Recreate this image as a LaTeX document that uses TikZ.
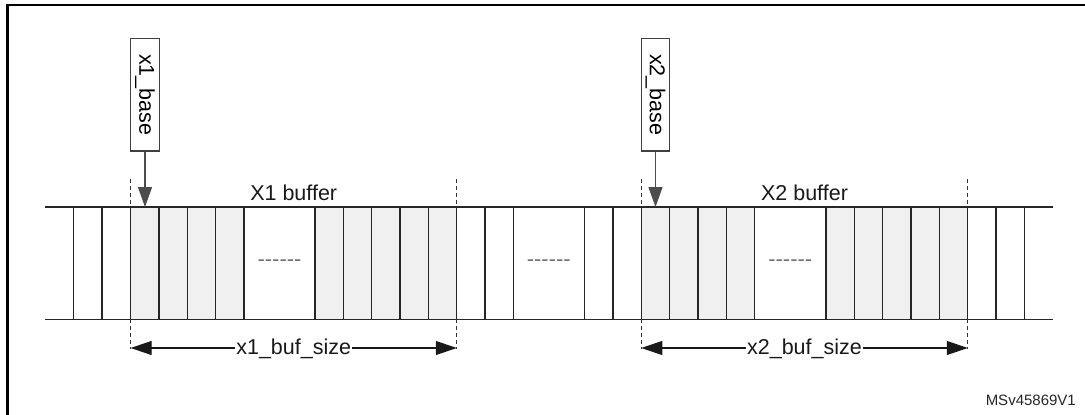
\documentclass[tikz,border=0pt]{standalone}
\usepackage{fontspec}
\setmainfont{Liberation Sans}
\usetikzlibrary{arrows.meta}
\begin{document}
\begin{tikzpicture}[x=1pt,y=-1pt,
  frameline/.style={draw=black,line width=2.6pt},
  gridline/.style={draw=black!85,line width=1.4pt},
  cellfill/.style={fill=black!6,draw=none},
  bnd/.style={draw=black!80,line width=1.1pt,dash pattern=on 4pt off 3pt},
  lbl/.style={font=\fontsize{21.5}{24}\selectfont,text=black!90,inner sep=0pt},
  dots/.style={font=\fontsize{22}{24}\selectfont,text=black!55,inner sep=0pt},
  basebox/.style={draw=black!75,line width=1.2pt,fill=white,rotate=-90,
    minimum width=112.7pt,minimum height=28.4pt,inner sep=0pt,
    font=\fontsize{21.5}{24}\selectfont},
  ptr/.style={draw=black!70,line width=1.3pt,-{Triangle[length=20pt,width=14pt]}},
  dim/.style={draw=black!90,line width=1.3pt,{Triangle[length=21pt,width=14pt]}-{Triangle[length=21pt,width=14pt]}},
  tag/.style={font=\fontsize{15}{18}\selectfont,text=black!85,inner sep=0pt}]
\useasboundingbox (0,0) rectangle (1085,415);

% frame (cropped)
\draw[frameline] (7.5,415) -- (7.5,5) -- (1085,5);

% shaded buffer cells
\fill[cellfill] (130.7,207) rectangle (244.1,319.3);
\fill[cellfill] (315,207) rectangle (456.75,319.3);
\fill[cellfill] (641.3,207) rectangle (754.7,319.3);
\fill[cellfill] (826,207) rectangle (967.75,319.3);

% horizontal memory lines
\draw[gridline] (45,207) -- (1053.3,207);
\draw[gridline] (45,319.3) -- (1053.3,319.3);

% cell separators
\foreach \x in {73.7,102,130.7,159.05,187.4,215.75,244.1,
                315,343.35,371.7,400.05,428.4,456.75,485.1,513.45,
                584.3,612.8,641.3,669.65,698,726.35,754.7,
                826,854.35,882.7,911.05,939.4,967.75,996.1,1024.45}
  \draw[gridline] (\x,207) -- (\x,319.3);

% buffer boundaries (dashed)
\foreach \x in {130.7,456.75,641.3,967.75} {
  \draw[bnd] (\x,179) -- (\x,207);
  \draw[bnd] (\x,319.3) -- (\x,349);
}

% gaps
\node[dots] (g1) at (279.5,263) {-{}-{}-{}-{}-{}-};
\node[dots] (g2) at (548.8,263) {-{}-{}-{}-{}-{}-};
\node[dots] (g3) at (790.3,263) {-{}-{}-{}-{}-{}-};

% buffer titles
\node[lbl,anchor=base] (t1) at (293.7,200) {X1 buffer};
\node[lbl,anchor=base] (t2) at (804.5,200) {X2 buffer};

% base pointers
\node[basebox] (b1) at (145,94.7) {x1\_base};
\node[basebox] (b2) at (655.5,94.7) {x2\_base};
\coordinate (p1) at (145,207);
\coordinate (p2) at (655.5,207);
\draw[ptr] (b1) -- (p1);
\draw[ptr] (b2) -- (p2);

% size dimensions
\coordinate (d1l) at (130.7,348);
\coordinate (d1r) at (456.75,348);
\coordinate (d2l) at (641.3,348);
\coordinate (d2r) at (967.75,348);
\draw[dim] (d1l) -- (d1r);
\draw[dim] (d2l) -- (d2r);
\node[lbl,anchor=base,fill=white,inner xsep=1pt] (s1) at (293.7,354.5) {x1\_buf\_size};
\node[lbl,anchor=base,fill=white,inner xsep=1pt] (s2) at (804.5,354.5) {x2\_buf\_size};

% figure tag
\node[tag,anchor=base east] (ms) at (1076,405) {MSv45869V1};
\end{tikzpicture}
\end{document}
